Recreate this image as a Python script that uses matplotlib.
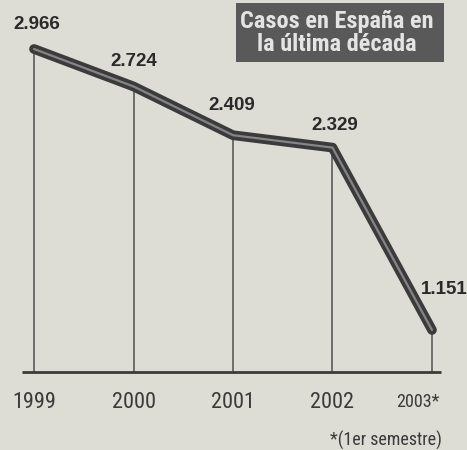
import matplotlib
matplotlib.use("Agg")
import matplotlib.pyplot as plt
from matplotlib.patches import Rectangle

# data
years = [1999, 2000, 2001, 2002, 2003]
cases = [2966, 2724, 2409, 2329, 1151]
year_labels = ["1999", "2000", "2001", "2002", "2003*"]
title = "Casos en España en\nla última década"
footnote = "*(1er semestre)"

BG = "#dddcd5"
DARK = "#3b3b3b"
NARROW = ["Roboto Condensed", "DejaVu Sans"]
SANS = ["Liberation Sans", "DejaVu Sans"]

fig = plt.figure(figsize=(4.67, 4.5), dpi=100, facecolor=BG)
ax = fig.add_axes([0, 0, 1, 1])
ax.set_facecolor(BG)
ax.set_xlim(1998.658, 2003.352)
ax.set_ylim(375.6, 3282.5)
ax.axis("off")

baseline = 879

# drop lines from each point to the base
for x, v in zip(years, cases):
    ax.plot([x, x], [baseline, v], color="#505050", lw=1.1, zorder=2)

# base line
ax.plot([1998.88, 2003.09], [baseline, baseline], color=DARK, lw=2.0,
        solid_capstyle="butt", zorder=3)

# thick double-stroke line
ax.plot(years, cases, color=DARK, lw=7.0, solid_capstyle="round",
        solid_joinstyle="round", zorder=4)
ax.plot(years, cases, color="#858585", lw=1.6, solid_capstyle="round",
        solid_joinstyle="round", zorder=5)

# value labels
offsets = [(3, 24), (0, 25), (-1, 30), (2, 22), (-11, 40)]
for x, v, (dx, dy) in zip(years, cases, offsets):
    lab = f"{v:,}".replace(",", ".")
    ax.annotate(lab, (x, v), xytext=(dx, dy), textcoords="offset pixels",
                ha="center" if x < 2003 else "left", va="center",
                fontsize=13.5, fontweight="bold", family=SANS,
                color="#2a2a2a", zorder=6)

# year labels under the axis
trans = ax.get_xaxis_transform()
for x, lab in zip(years, year_labels):
    big = not lab.endswith("*")
    ax.text(x + (0 if big else -0.14), 1 - 402 / 450, lab, transform=trans,
            ha="center", va="center", fontsize=16 if big else 13,
            family=NARROW, color="#3a3a3a")

ax.text(442 / 467, 1 - 440 / 450, footnote, transform=ax.transAxes,
        ha="right", va="center", fontsize=13, family=NARROW, color="#3a3a3a")

# title box
ax.add_patch(Rectangle((236 / 467, 1 - 62 / 450), 208 / 467, 59 / 450,
                       transform=ax.transAxes, facecolor="#595959",
                       edgecolor="none", zorder=6))
ax.text(337 / 467, 1 - 33 / 450, title, transform=ax.transAxes,
        ha="center", va="center", fontsize=17.5, fontweight="bold",
        family=NARROW, color="#e4e4e4", linespacing=0.98, zorder=7)

fig.savefig("out.png", dpi=100, facecolor=BG)
